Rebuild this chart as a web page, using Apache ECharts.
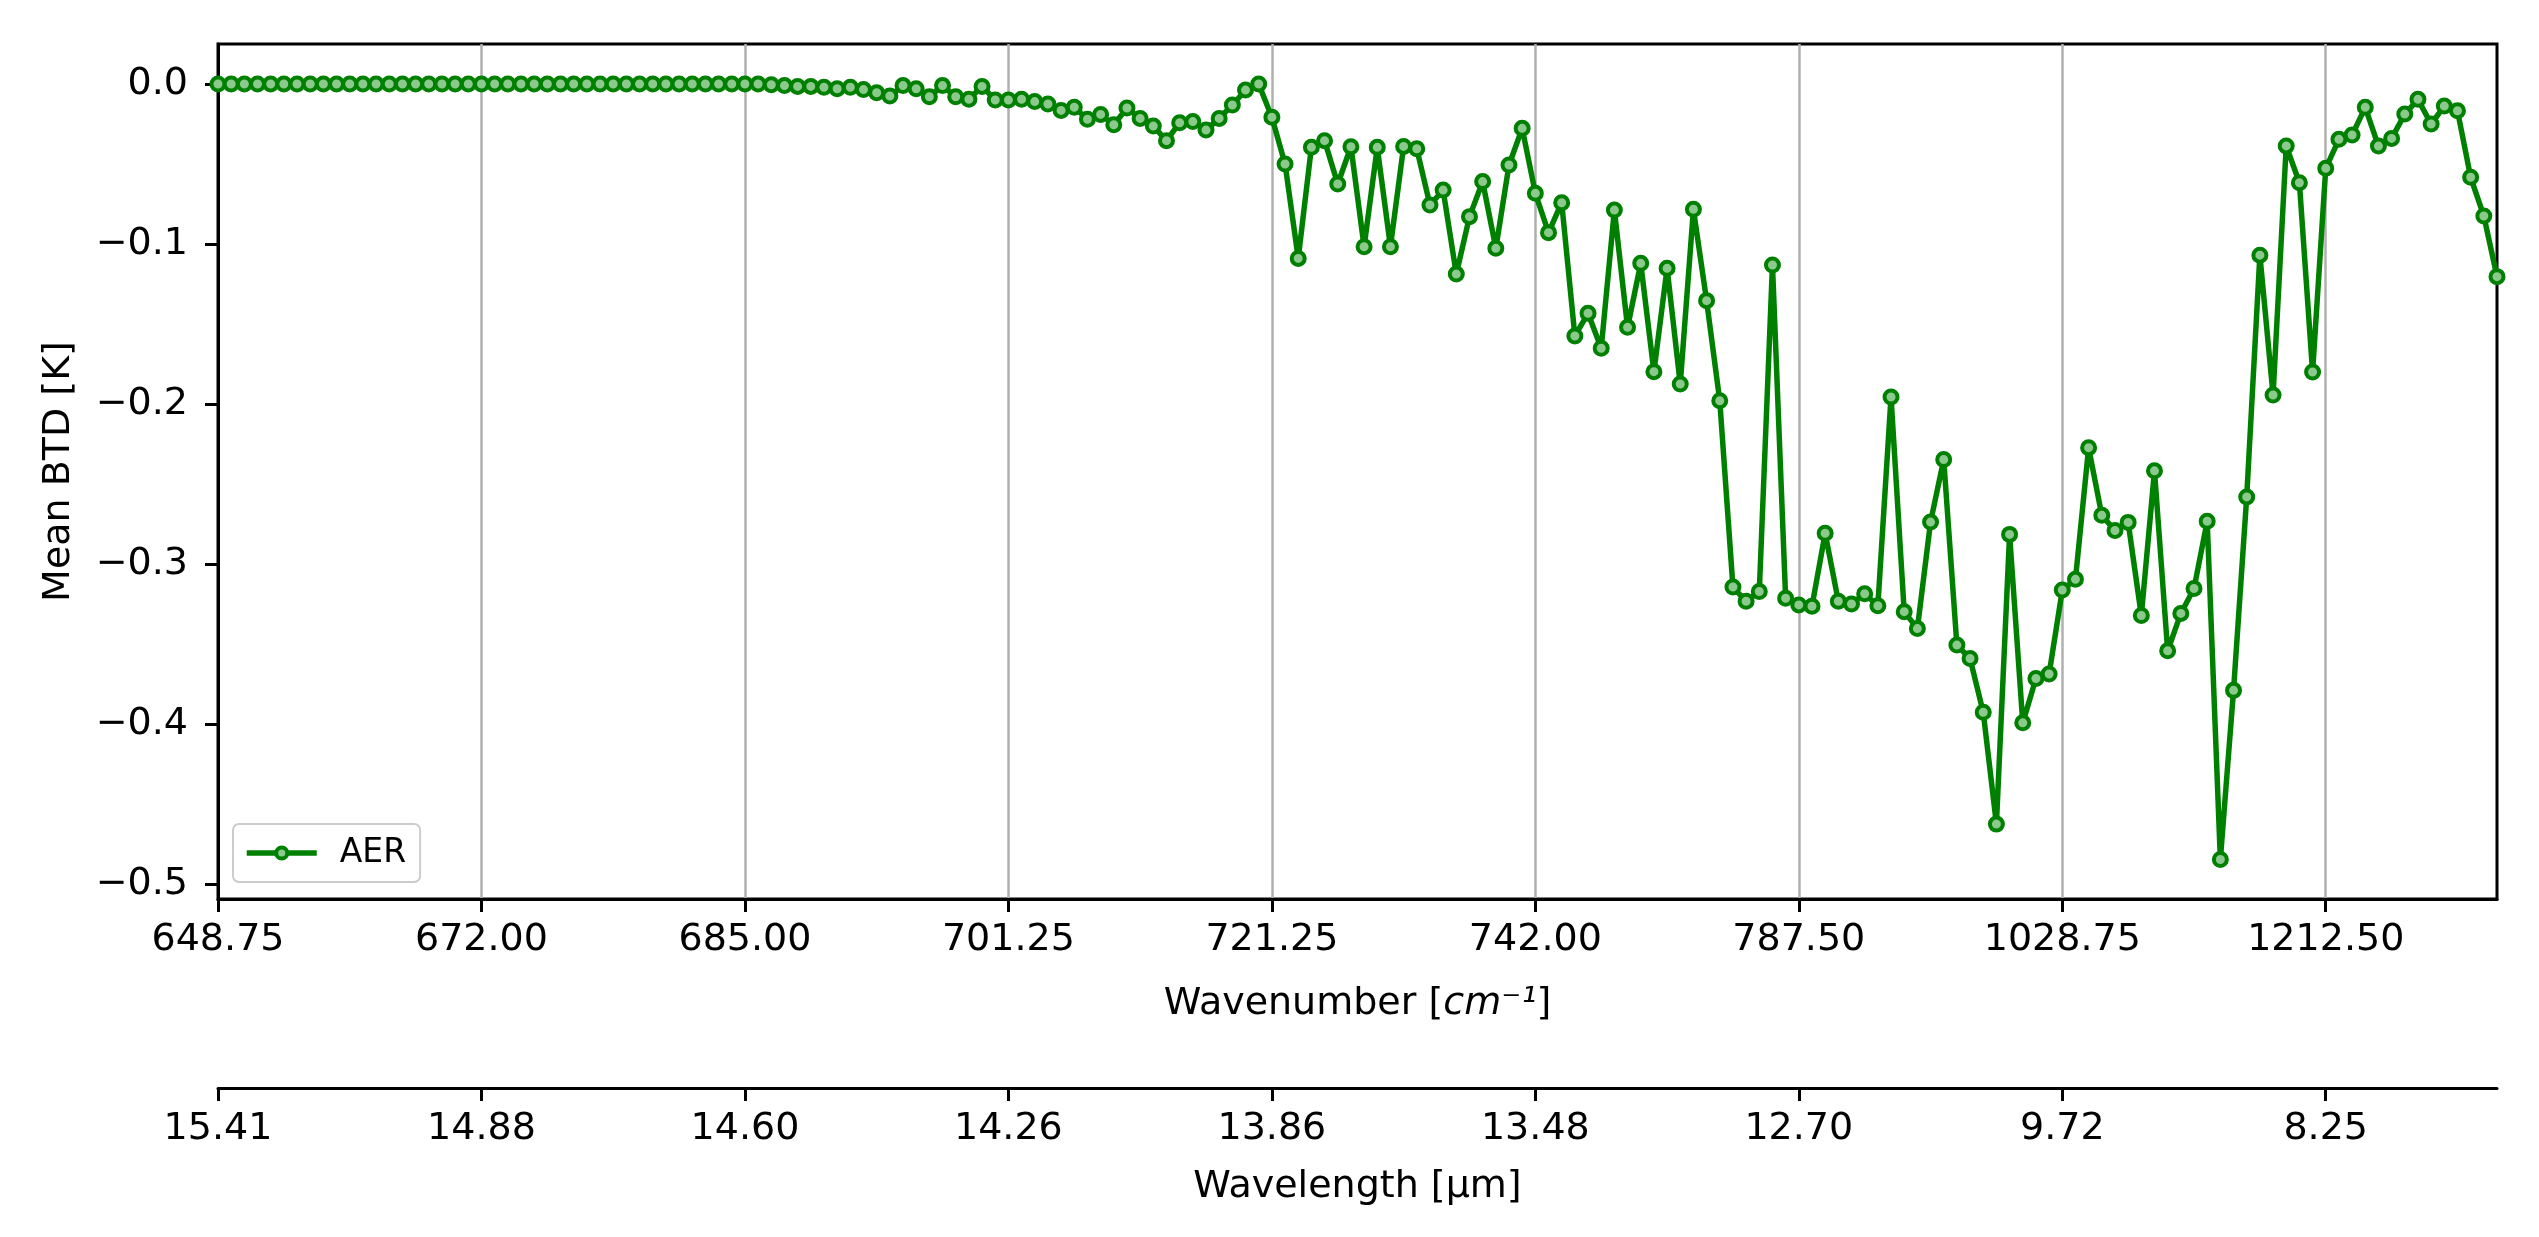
<!DOCTYPE html>
<html>
<head>
    <meta charset="utf-8">
    <title>Mean BTD - AER</title>
    <script src="https://cdn.jsdelivr.net/npm/echarts@6/dist/echarts.min.js"></script>
    <style>
        html, body { margin: 0; padding: 0; background: #fff; }
        #chart { width: 2539px; height: 1237px; }
    </style>
</head>
<body>
<div id="chart"></div>
<script type="text/javascript">

    // channel tick positions (channel index) and their labels
    var tickChannels = [0, 20, 40, 60, 80, 100, 120, 140, 160];
    var wavenumberLabels = ['648.75', '672.00', '685.00', '701.25', '721.25', '742.00', '787.50', '1028.75', '1212.50'];
    var wavelengthLabels = ['15.41', '14.88', '14.60', '14.26', '13.86', '13.48', '12.70', '9.72', '8.25'];
    var btdTicks = [0, -0.1, -0.2, -0.3, -0.4, -0.5];

    // mean BTD [K] per channel
    var aerBTD = [
        0, 0, 0, 0, 0, 0, 0, 0, 0, 0,
        0, 0, 0, 0, 0, 0, 0, 0, 0, 0,
        0, 0, 0, 0, 0, 0, 0, 0, 0, 0,
        0, 0, 0, 0, 0, 0, 0, 0, 0, 0,
        0, 0, -0.0005, -0.001, -0.0015, -0.0015, -0.002, -0.003, -0.002, -0.0035,
        -0.0055, -0.0075, -0.001, -0.003, -0.008, -0.001, -0.008, -0.0095, -0.0015, -0.010,
        -0.010, -0.0095, -0.011, -0.0125, -0.0165, -0.0145, -0.022, -0.019, -0.0255, -0.015,
        -0.0215, -0.0263, -0.0354, -0.0242, -0.0235, -0.0288, -0.0215, -0.0131, -0.0038, 0.0,
        -0.0208, -0.050, -0.109, -0.0396, -0.0354, -0.0625, -0.0392, -0.1017, -0.0396, -0.1017,
        -0.039, -0.0405, -0.0756, -0.0663, -0.1188, -0.0829, -0.061, -0.1027, -0.0506, -0.0277,
        -0.0683, -0.0929, -0.0742, -0.1575, -0.1433, -0.1652, -0.0788, -0.1521, -0.1121, -0.1798,
        -0.1152, -0.1875, -0.0783, -0.1354, -0.198, -0.3144, -0.3233, -0.3172, -0.1131, -0.3214,
        -0.3256, -0.3264, -0.2808, -0.3233, -0.325, -0.3186, -0.3261, -0.1956, -0.3298, -0.3404,
        -0.2738, -0.2347, -0.3507, -0.3591, -0.3927, -0.4626, -0.2815, -0.3993, -0.3716, -0.3688,
        -0.3163, -0.3096, -0.2273, -0.2696, -0.2791, -0.274, -0.3322, -0.2418, -0.3543, -0.3309,
        -0.3153, -0.2733, -0.4847, -0.379, -0.2581, -0.107, -0.1944, -0.0387, -0.0617, -0.180,
        -0.0527, -0.0346, -0.0319, -0.0146, -0.0388, -0.034, -0.0188, -0.0096, -0.025, -0.0138,
        -0.0167, -0.0583, -0.0825, -0.1204
    ];

    var font = 'DejaVu Sans';
    var lastChannel = aerBTD.length - 1;

    function tickLabel(labels) {
        return function (v) {
            var k = tickChannels.indexOf(Math.round(v));
            return k >= 0 ? labels[k] : '';
        };
    }

    var myChart = echarts.init(document.getElementById('chart'));

    myChart.setOption({
        animation: false,
        backgroundColor: '#fff',
        textStyle: { fontFamily: font, color: '#000' },
        grid: {
            left: 218, right: 42, top: 44, bottom: 338,
            show: true, borderColor: '#000', borderWidth: 3,
            outerBoundsMode: 'none'
        },
        legend: {
            left: 233, top: 824,
            padding: [12, 14, 12, 11],
            itemWidth: 70, itemHeight: 14,
            backgroundColor: 'rgba(255,255,255,0.8)',
            borderColor: '#cccccc', borderWidth: 2, borderRadius: 6,
            lineStyle: { width: 5.5, color: '#008000' },
            itemStyle: { color: '#8cc98c', borderColor: '#008000', borderWidth: 4 },
            textStyle: { fontFamily: font, fontSize: 33, color: '#000', padding: [0, 0, 0, 18], lineHeight: 34 },
            data: ['AER']
        },
        xAxis: [{
            type: 'value',
            min: 0, max: lastChannel, interval: 20,
            name: '{n|Wavenumber [}{i|cm⁻¹}{n|]}',
            nameLocation: 'middle', nameGap: 86,
            nameTextStyle: {
                rich: {
                    n: { fontFamily: font, fontSize: 38, color: '#000' },
                    i: { fontFamily: font, fontSize: 38, fontStyle: 'italic', color: '#000' }
                }
            },
            axisLine: { show: true, onZero: false, lineStyle: { color: '#000', width: 3 } },
            axisTick: { show: true, length: 13, lineStyle: { color: '#000', width: 3 }, customValues: tickChannels },
            axisLabel: {
                customValues: tickChannels, margin: 22,
                fontFamily: font, fontSize: 38, color: '#000',
                formatter: tickLabel(wavenumberLabels)
            },
            splitLine: { show: true, lineStyle: { color: '#b0b0b0', width: 2.5 } }
        }, {
            type: 'value',
            position: 'bottom', offset: 189,
            min: 0, max: lastChannel, interval: 20,
            name: 'Wavelength [µm]',
            nameLocation: 'middle', nameGap: 80,
            nameTextStyle: { fontFamily: font, fontSize: 38, color: '#000' },
            axisLine: { show: true, onZero: false, lineStyle: { color: '#000', width: 3 } },
            axisTick: { show: true, length: 13, lineStyle: { color: '#000', width: 3 }, customValues: tickChannels },
            axisLabel: {
                customValues: tickChannels, margin: 22,
                fontFamily: font, fontSize: 38, color: '#000',
                formatter: tickLabel(wavelengthLabels)
            },
            splitLine: { show: false }
        }],
        yAxis: {
            type: 'value',
            min: -0.5094, max: 0.025,
            name: 'Mean BTD [K]',
            nameLocation: 'middle', nameGap: 140, nameRotate: 90,
            nameTextStyle: { fontFamily: font, fontSize: 38, color: '#000' },
            axisLine: { show: true, onZero: false, lineStyle: { color: '#000', width: 3 } },
            axisTick: { show: true, length: 13, lineStyle: { color: '#000', width: 3 }, customValues: btdTicks },
            axisLabel: {
                customValues: btdTicks, margin: 30,
                fontFamily: font, fontSize: 38, color: '#000',
                formatter: function (v) { return v.toFixed(1).replace('-', '\u2212'); }
            },
            splitLine: { show: false }
        },
        series: [{
            name: 'AER',
            type: 'line',
            xAxisIndex: 0,
            data: aerBTD.map(function (v, i) { return [i, v]; }),
            symbol: 'circle',
            symbolSize: 13,
            showAllSymbol: true,
            lineStyle: { color: '#008000', width: 5.5 },
            itemStyle: { color: '#8cc98c', borderColor: '#008000', borderWidth: 4 }
        }]
    });
</script>
</body>
</html>
